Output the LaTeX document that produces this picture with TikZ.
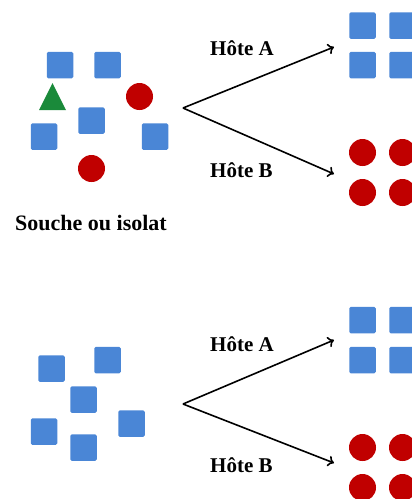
\documentclass[tikz,border=0pt]{standalone}
\usepackage{fontspec}
\setmainfont{Liberation Serif}
\usetikzlibrary{arrows.meta}
\definecolor{sqblue}{HTML}{4A86D6}
\definecolor{dotred}{HTML}{C00000}
\definecolor{trigreen}{HTML}{1A8A3A}
\begin{document}
\begin{tikzpicture}[x=1pt,y=-1pt,
  sq/.style={fill=sqblue,draw=none,rounded corners=1.5pt,minimum size=26.5pt,inner sep=0pt,rectangle},
  dot/.style={fill=dotred,draw=none,circle,minimum size=27pt,inner sep=0pt},
  arr/.style={draw=black,line width=1.6pt,-{To[length=6pt,width=11pt]}},
  lbl/.style={font=\fontsize{21}{24}\selectfont\bfseries,anchor=base west,inner sep=0pt},
]
\useasboundingbox (0,0) rectangle (412,499);
% top source group
\node[sq] (s1) at (60,65) {};
\node[sq] (s2) at (107.5,65) {};
\fill[trigreen] (39,110) -- (52.5,83) -- (66,110) -- cycle;
\node[dot] (c1) at (139.5,96.5) {};
\node[sq] (s3) at (91.5,120.5) {};
\node[sq] (s4) at (44,136.5) {};
\node[sq] (s5) at (155,136.5) {};
\node[dot] (c2) at (91.5,168.5) {};
\node[lbl,font=\fontsize{22}{25}\selectfont\bfseries] (souche) at (15,230) {Souche ou isolat};
% top arrows
\coordinate (o1) at (183,108);
\coordinate (a1) at (334,47);
\coordinate (b1) at (334,174);
\draw[arr] (o1) -- (a1);
\draw[arr] (o1) -- (b1);
\node[lbl] (ha1) at (210,55) {Hôte A};
\node[lbl] (hb1) at (210,177) {Hôte B};
% top results
\node[sq] (r1) at (362.5,25.5) {};
\node[sq] (r2) at (402.5,25.5) {};
\node[sq] (r3) at (362.5,65) {};
\node[sq] (r4) at (402.5,65) {};
\node[dot] (d1) at (362.5,152.5) {};
\node[dot] (d2) at (402.5,152.5) {};
\node[dot] (d3) at (362.5,192.5) {};
\node[dot] (d4) at (402.5,192.5) {};
% bottom source group
\node[sq] (t1) at (51.5,368.5) {};
\node[sq] (t2) at (107.5,360) {};
\node[sq] (t3) at (83.5,399.5) {};
\node[sq] (t4) at (44,431.5) {};
\node[sq] (t5) at (131.5,423.5) {};
\node[sq] (t6) at (83.5,447.5) {};
% bottom arrows
\coordinate (o2) at (183,404);
\coordinate (a2) at (334,340);
\coordinate (b2) at (334,463);
\draw[arr] (o2) -- (a2);
\draw[arr] (o2) -- (b2);
\node[lbl] (ha2) at (210,351) {Hôte A};
\node[lbl] (hb2) at (210,472) {Hôte B};
% bottom results
\node[sq] (u1) at (362.5,320) {};
\node[sq] (u2) at (402.5,320) {};
\node[sq] (u3) at (362.5,360) {};
\node[sq] (u4) at (402.5,360) {};
\node[dot] (e1) at (362.5,447.5) {};
\node[dot] (e2) at (402.5,447.5) {};
\node[dot] (e3) at (362.5,487.5) {};
\node[dot] (e4) at (402.5,487.5) {};
\end{tikzpicture}
\end{document}
